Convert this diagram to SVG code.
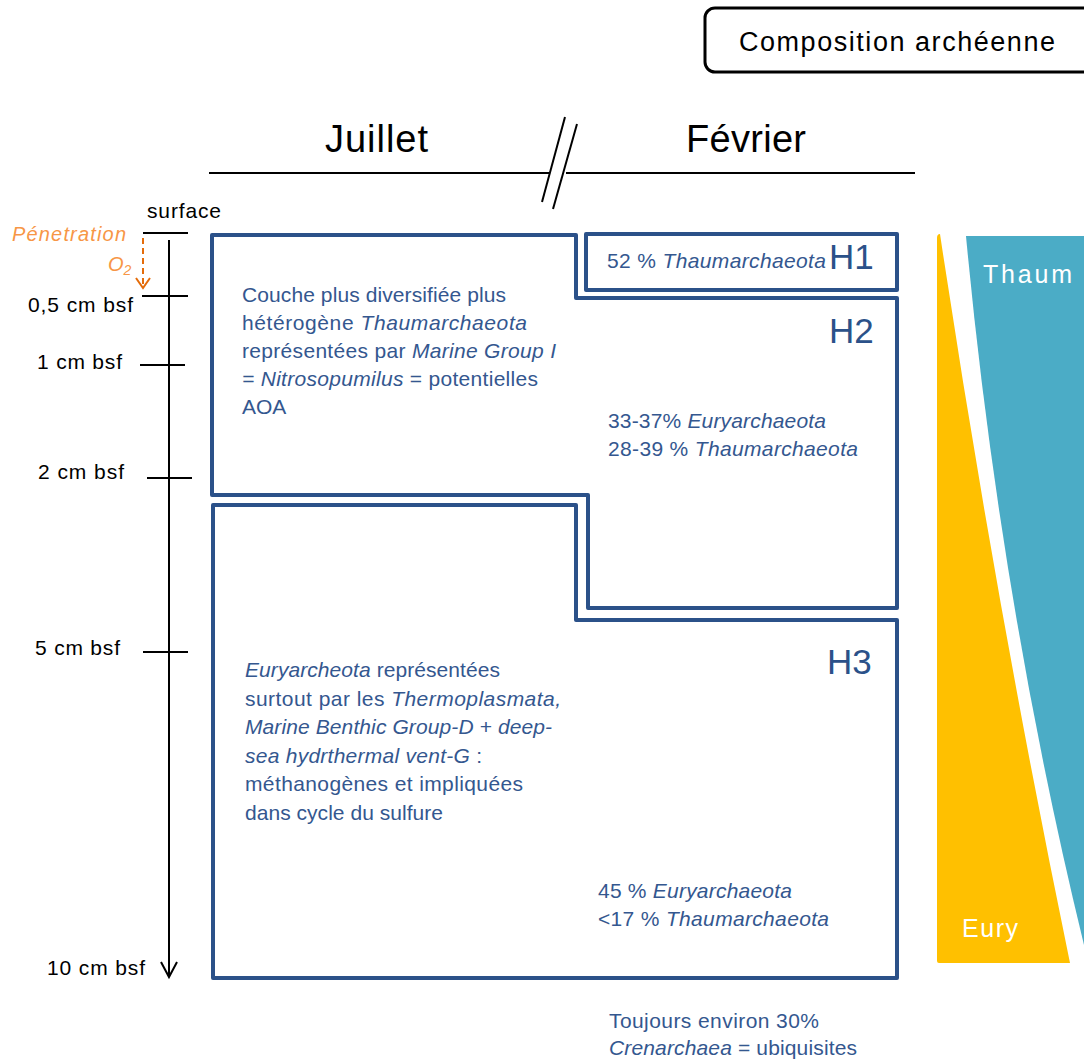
<svg xmlns="http://www.w3.org/2000/svg" width="1084" height="1061" viewBox="0 0 1084 1061">
<style>
.t{font-family:"Liberation Sans",Arial,sans-serif;}
.ax{font-family:"Liberation Sans",Arial,sans-serif;font-size:21px;fill:#000;}
.bl{font-family:"Liberation Sans",Arial,sans-serif;font-size:21px;fill:#34578F;}
.it{font-style:italic;}
.hz{font-family:"Liberation Sans",Arial,sans-serif;font-size:35px;fill:#2B5189;}
.box{fill:none;stroke:#2B5189;stroke-width:4;stroke-linejoin:round;}
.blk{stroke:#000;stroke-width:2;fill:none;}
.or{fill:#F79646;font-family:"Liberation Sans",Arial,sans-serif;font-size:20px;font-style:italic;}
.wt{fill:#fff;font-family:"Liberation Sans",Arial,sans-serif;font-size:25px;}
</style>
<rect width="1084" height="1061" fill="#fff"/>

<g id="title">
<rect x="705" y="8" width="400" height="64" rx="10" ry="10" fill="#fff" stroke="#000" stroke-width="3"/>
<text class="t" x="739" y="51" font-size="27" textLength="316">Composition archéenne</text>
</g>

<g id="header">
<text class="t" x="325" y="152" font-size="38" textLength="103">Juillet</text>
<text class="t" x="686" y="152" font-size="38" textLength="120">Février</text>
<line x1="209" y1="173" x2="550" y2="173" class="blk"/>
<line x1="566" y1="173" x2="915" y2="173" class="blk"/>
<line x1="542" y1="202" x2="565" y2="117" class="blk"/>
<line x1="553" y1="209" x2="577" y2="124" class="blk"/>
</g>

<g id="connectors">
<line x1="143" y1="233" x2="188" y2="233" class="blk"/>
<line x1="169" y1="240" x2="169" y2="977" class="blk"/>
<polyline points="161,962 169,977 177,962" class="blk"/>
<line x1="142" y1="296" x2="188" y2="296" class="blk"/>
<line x1="140" y1="365" x2="185" y2="365" class="blk"/>
<line x1="147" y1="478" x2="192" y2="478" class="blk"/>
<line x1="143" y1="652" x2="188" y2="652" class="blk"/>
<line x1="143" y1="238" x2="143" y2="285" stroke="#E46C0A" stroke-width="2" stroke-dasharray="6,4"/>
<polyline points="136,278 143,288 150,278" fill="none" stroke="#E46C0A" stroke-width="2"/>
</g>

<g id="axis-labels">
<text class="ax" x="147" y="218" textLength="74">surface</text>
<text class="ax" x="28" y="312" textLength="105">0,5 cm bsf</text>
<text class="ax" x="37" y="369" textLength="85">1 cm bsf</text>
<text class="ax" x="38" y="479" textLength="86">2 cm bsf</text>
<text class="ax" x="35" y="655" textLength="85">5 cm bsf</text>
<text class="ax" x="47" y="975" textLength="98">10 cm bsf</text>
<text class="or" x="12" y="241" textLength="114">Pénetration</text>
<text class="or" x="108" y="271" font-size="21">O<tspan font-size="14" dy="4">2</tspan></text>
</g>

<g id="zone-H1">
<rect x="586" y="234" width="311" height="56" class="box"/>
<text class="bl" x="607" y="268" textLength="219">52 % <tspan class="it">Thaumarchaeota</tspan></text>
<text class="hz" x="829" y="269">H1</text>
</g>

<g id="zone-H2">
<polygon points="212,235 576,235 576,298 897,298 897,608 588,608 588,495 212,495" class="box"/>
<text class="bl" x="242" y="302" textLength="264">Couche plus diversifiée plus</text>
<text class="bl" x="242" y="330" textLength="285">hétérogène <tspan class="it">Thaumarchaeota</tspan></text>
<text class="bl" x="242" y="358" textLength="314">représentées par <tspan class="it">Marine Group I</tspan></text>
<text class="bl" x="242" y="386" textLength="296"><tspan class="it">= Nitrosopumilus</tspan> = potentielles</text>
<text class="bl" x="242" y="414">AOA</text>
<text class="hz" x="829" y="343">H2</text>
<text class="bl" x="608" y="428" textLength="218">33-37% <tspan class="it">Euryarchaeota</tspan></text>
<text class="bl" x="608" y="456" textLength="250">28-39 % <tspan class="it">Thaumarchaeota</tspan></text>
</g>

<g id="zone-H3">
<polygon points="213,505 576,505 576,620 897,620 897,978 213,978" class="box"/>
<text class="hz" x="827" y="674">H3</text>
<text class="bl" x="245" y="677" textLength="255"><tspan class="it">Euryarcheota</tspan> représentées</text>
<text class="bl" x="245" y="706" textLength="316">surtout par les <tspan class="it">Thermoplasmata,</tspan></text>
<text class="bl it" x="245" y="734" textLength="307">Marine Benthic Group-D + deep-</text>
<text class="bl" x="245" y="763" textLength="237"><tspan class="it">sea hydrthermal vent-G</tspan> :</text>
<text class="bl" x="245" y="791" textLength="278">méthanogènes et impliquées</text>
<text class="bl" x="245" y="820" textLength="198">dans cycle du sulfure</text>
<text class="bl" x="598" y="898" textLength="194">45 % <tspan class="it">Euryarchaeota</tspan></text>
<text class="bl" x="598" y="926" textLength="231">&lt;17 % <tspan class="it">Thaumarchaeota</tspan></text>
</g>

<g id="note">
<text class="bl" x="609" y="1028" textLength="210">Toujours environ 30%</text>
<text class="bl" x="609" y="1055" textLength="248"><tspan class="it">Crenarchaea</tspan> = ubiquisites</text>
</g>

<g id="gradient-bars">
<path d="M937,238 Q937,234 940,234 Q995,600 1070,963 L939,963 Q937,963 937,961 Z" fill="#FFC000"/>
<path d="M966,236 L1084,236 L1084,945 Q1000,600 966,236 Z" fill="#4BACC6"/>
<text class="wt" x="983" y="283" textLength="89">Thaum</text>
<text class="wt" x="962" y="937" textLength="56">Eury</text>
</g>
</svg>
